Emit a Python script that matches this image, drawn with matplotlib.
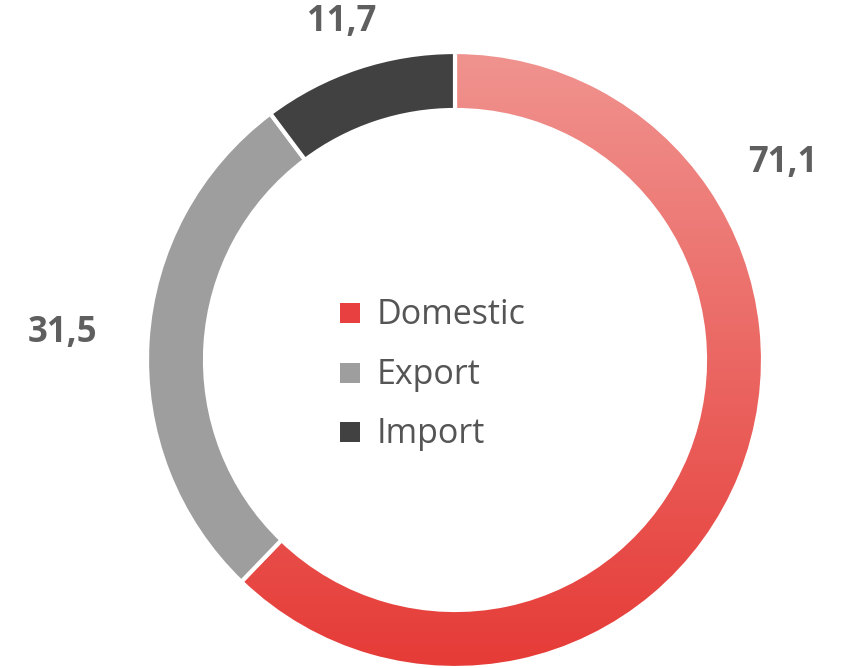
import numpy as np
import matplotlib
matplotlib.use("Agg")
import matplotlib.pyplot as plt
from matplotlib.patches import Rectangle
from matplotlib.colors import LinearSegmentedColormap

categories = ["Domestic", "Export", "Import"]
values = [71.1, 31.5, 11.7]
labels = ["71,1", "31,5", "11,7"]
colors = ["#E84040", "#9D9E9D", "#414141"]

W, H = 841, 668
fig = plt.figure(figsize=(W / 100, H / 100), dpi=100)
ax = fig.add_axes([0, 0, 1, 1])

cx, cy = 455, H - 360
R, width = 308, 58

wedges, _ = ax.pie(values, startangle=90, counterclock=False, radius=R,
                   center=(cx, cy), colors=colors,
                   wedgeprops=dict(width=width, edgecolor="white", linewidth=3))
ax.set_xlim(0, W)
ax.set_ylim(0, H)
ax.set_aspect("equal")
ax.axis("off")

# gradient for domestic
dom = wedges[0]
cmap = LinearSegmentedColormap.from_list("g", ["#E63B37", "#F0938F"])
grad = np.linspace(0, 1, 256).reshape(-1, 1)
im = ax.imshow(grad, cmap=cmap, origin="lower", aspect="auto",
               extent=(cx - R, cx + R, cy - R, cy + R), zorder=dom.get_zorder() - 0.5)
im.set_clip_path(dom)
dom.set_facecolor("none")
ax.set_xlim(0, W)
ax.set_ylim(0, H)

# value labels
label_pos = {"Domestic": (783, H - 163), "Export": (63, H - 333), "Import": (342, H - 22)}
for cat, lab in zip(categories, labels):
    x, y = label_pos[cat]
    ax.text(x, y, lab, ha="center", va="center", fontsize=25, fontweight="bold",
            family="Open Sans", color="#5F5F5F")

# legend
for i, (cat, col) in enumerate(zip(categories, colors)):
    yc = H - (313 + i * 59.5)
    ax.add_patch(Rectangle((340, yc - 10), 20, 20, facecolor=col, edgecolor="none"))
    ax.text(377, yc - 2, cat, ha="left", va="center", fontsize=24.5, family="Open Sans",
            color="#555555")

fig.savefig("out.png", dpi=100)
